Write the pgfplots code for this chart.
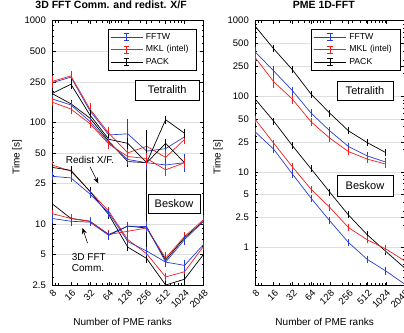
\documentclass[border=0pt]{standalone}
\usepackage{fontspec}
\setmainfont{Liberation Sans}
\usepackage{pgfplots}
\pgfplotsset{compat=1.18}
\usetikzlibrary{arrows.meta}
\definecolor{cB}{RGB}{40,60,210}
\definecolor{cR}{RGB}{240,30,30}
\definecolor{cK}{RGB}{0,0,0}
\pgfplotsset{
  sB/.style={color=cB, line width=0.7pt, mark=none, error bars/.cd, y dir=both, y explicit, error bar style={line width=0.7pt}, error mark options={cB, mark size=3pt, line width=0.7pt}},
  sR/.style={color=cR, line width=0.7pt, mark=none, error bars/.cd, y dir=both, y explicit, error bar style={line width=0.7pt}, error mark options={cR, mark size=3pt, line width=0.7pt}},
  sK/.style={color=cK, line width=0.7pt, mark=none, error bars/.cd, y dir=both, y explicit, error bar style={line width=0.7pt}, error mark options={cK, mark size=3pt, line width=0.7pt}},
  every axis/.append style={
    scale only axis, height=264.3pt,
    xmode=log, ymode=log, xmin=8, xmax=2048,
    xtick={8,16,32,64,128,256,512,1024,2048},
    xticklabels={8,16,32,64,128,256,512,1024,2048},
    minor xtick={9,10,20,30,40,50,60,70,80,90,100,200,300,400,500,600,700,800,900,1000,2000},
    ymajorgrids, major grid style={black!13, line width=0.5pt},
    tick align=inside, major tick length=3.5pt, minor tick length=2pt,
    tick style={black, line width=0.45pt},
    axis line style={line width=0.5pt},
    every tick label/.append style={font=\fontsize{9.5}{10}\selectfont},
    /pgf/number format/assume math mode=true,
    yticklabel style={inner sep=0pt}, yticklabel shift=6pt,
    xticklabel style={inner sep=0pt, xshift=3pt, rotate=45, anchor=east}, xticklabel shift=6.5pt,
    xlabel style={font=\fontsize{10}{12}\selectfont, at={(axis description cs:0.466,0)}, anchor=center, yshift=-37pt},
    title style={font=\bfseries\fontsize{10.5}{12}\selectfont, anchor=center, yshift=9.7pt},
    legend cell align=left,
    legend style={font=\fontsize{8.7}{9}\selectfont, draw=black, line width=0.5pt, anchor=north east,
      inner xsep=2pt, inner ysep=2.5pt, row sep=1pt, column sep=1.5pt,
      nodes={text height=6.5pt, text depth=2pt, inner sep=1.5pt, text width=47pt, align=left}},
    legend image code/.code={
      \draw[#1] (0pt,0pt) -- (32pt,0pt);
      \draw[#1] (16pt,-3.3pt) -- (16pt,3.3pt);
      \draw[#1] (13.2pt,3.3pt) -- (18.8pt,3.3pt);
      \draw[#1] (13.2pt,-3.3pt) -- (18.8pt,-3.3pt);},
  }
}
\begin{document}
\begin{tikzpicture}
% ---------------- left axis ----------------
\begin{axis}[at={(52pt,47pt)}, anchor=south west, width=151.5pt,
  ymin=2.5, ymax=1000,
  ytick={2.5,5,10,25,50,100,250,500,1000},
  yticklabels={2.5,5,10,25,50,100,250,500,1000},
  minor ytick={3,4,6,7,8,9,20,30,40,60,70,80,90,200,300,400,600,700,800,900},
  xlabel={Number of PME ranks},
  ylabel={Time [s]},
  ylabel style={font=\fontsize{10}{12}\selectfont, at={(axis description cs:-0.231,0.484)}, anchor=center},
  title={3D FFT Comm. and redist. X/F},
  title style={at={(axis description cs:0.39,1)}},
  legend style={at={(0.955,0.97)}},
]
% Tetralith, redist X/F
\addplot[sB] coordinates {(8,245) +- (0,10) (16,278) +- (0,12) (32,130) +- (0,6) (64,75) +- (0,4) (128,77) += (0,23) -= (0,12) (256,52) +- (0,4) (512,55) +- (0,8) (1024,72) +- (0,5)};
\addlegendentry{FFTW}
\addplot[sR] coordinates {(8,252) +- (0,12) (16,286) +- (0,14) (32,135) +- (0,8) (64,78) +- (0,5) (128,50) += (0,14) -= (0,4) (256,58) +- (0,5) (512,45) +- (0,4) (1024,68) +- (0,3)};
\addlegendentry{MKL (intel)}
\addplot[sK] coordinates {(8,192) +- (0,5) (16,237) +- (0,10) (32,118) +- (0,5) (64,68) +- (0,3) (128,62) +- (0,3) (256,40) += (0,38) -= (0,18) (512,106) +- (0,2) (1024,78) +- (0,3)};
\addlegendentry{PACK}
% Tetralith, 3D FFT comm
\addplot[forget plot, sK] coordinates {(8,192) +- (0,5) (16,152) +- (0,4) (32,110) +- (0,4) (64,65) +- (0,3) (128,41) +- (0,2) (256,40) +- (0,3) (512,62) +- (0,2) (1024,40) +- (0,2)};
\addplot[forget plot, sB] coordinates {(8,170) +- (0,4) (16,148) +- (0,4) (32,102) +- (0,4) (64,63) +- (0,3) (128,43) +- (0,2) (256,40) +- (0,4) (512,38) +- (0,3) (1024,40) +- (0,5)};
\addplot[forget plot, sR] coordinates {(8,158) +- (0,4) (16,135) +- (0,5) (32,97) +- (0,4) (64,61) +- (0,3) (128,46) +- (0,2) (256,44) +- (0,3) (512,34) +- (0,2) (1024,40) +- (0,2)};
% Beskow, redist X/F
\addplot[forget plot, sR] coordinates {(8,38) +- (0,1) (16,33) +- (0,1) (32,21) +- (0,0.6) (64,13.3) +- (0,0.5) (128,7.0) +- (0,0.3) (256,5.07) +- (0,0.2) (512,3.0) +- (0,0.1) (1024,3.38) +- (0,0.15) (2048,6.0) +- (0,0.2)};
\addplot[forget plot, sK] coordinates {(8,36) +- (0,0.5) (16,33.6) +- (0,1) (32,20.9) +- (0,0.5) (64,12.3) +- (0,0.3) (128,5.9) +- (0,0.15) (256,4.56) +- (0,0.15) (512,2.5) +- (0,0.05) (1024,2.85) +- (0,0.15) (2048,5.0) +- (0,0.2)};
\addplot[forget plot, sB] coordinates {(8,29.4) +- (0,0.7) (16,28.3) +- (0,0.7) (32,19.7) +- (0,0.5) (64,12.8) +- (0,0.3) (128,6.7) +- (0,0.2) (256,5.4) +- (0,0.2) (512,4.2) +- (0,0.15) (1024,3.9) +- (0,0.2) (2048,6.25) +- (0,0.3)};
% Beskow, 3D FFT comm
\addplot[forget plot, sK] coordinates {(8,15.8) +- (0,0.3) (16,11.3) +- (0,0.3) (32,10.6) +- (0,0.2) (64,7.85) +- (0,0.2) (128,9.5) +- (0,0.3) (256,9.1) += (0,13) -= (0,2.8) (512,4.4) +- (0,0.2) (1024,7.3) +- (0,0.3) (2048,10.6) +- (0,0.3)};
\addplot[forget plot, sR] coordinates {(8,12.6) +- (0,0.3) (16,11.3) +- (0,0.3) (32,10.6) +- (0,0.2) (64,7.85) +- (0,0.2) (128,8.45) +- (0,0.8) (256,9.1) +- (0,0.3) (512,4.6) +- (0,0.3) (1024,7.5) +- (0,0.3) (2048,11) +- (0,0.3)};
\addplot[forget plot, sB] coordinates {(8,11.3) +- (0,0.3) (16,10.6) +- (0,0.3) (32,10.4) +- (0,0.2) (64,7.7) +- (0,0.2) (128,9.5) +- (0,0.3) (256,9.4) +- (0,0.6) (512,4.2) +- (0,0.2) (1024,7.0) +- (0,0.3) (2048,10.6) +- (0,0.3)};
\end{axis}
% ---------------- right axis ----------------
\begin{axis}[at={(255pt,47pt)}, anchor=south west, width=149.5pt,
  ymin=0.32, ymax=1000,
  ytick={1,2.5,5,10,25,50,100,250,500,1000},
  yticklabels={1,2.5,5,10,25,50,100,250,500,1000},
  minor ytick={0.4,0.5,0.6,0.7,0.8,0.9,2,3,4,6,7,8,9,20,30,40,60,70,80,90,200,300,400,600,700,800,900},
  xlabel={Number of PME ranks},
  ylabel={Time [s]},
  ylabel style={font=\fontsize{10}{12}\selectfont, at={(axis description cs:-0.247,0.484)}, anchor=center},
  title={PME 1D-FFT},
  title style={at={(axis description cs:0.46,1)}},
  legend style={at={(0.97,0.97)}},
]
\addplot[sB] coordinates {(8,389) +- (0,15) (16,217) +- (0,12) (32,119) +- (0,4) (64,60) +- (0,2) (128,35) +- (0,1) (256,21.7) +- (0,0.6) (512,16.3) +- (0,0.4) (1024,13.5) +- (0,0.4)};
\addlegendentry{FFTW}
\addplot[sR] coordinates {(8,328) +- (0,12) (16,156) +- (0,15) (32,92) +- (0,4) (64,46) +- (0,1.5) (128,28) +- (0,1) (256,18.6) +- (0,0.5) (512,14.8) +- (0,0.4) (1024,12.7) +- (0,0.4)};
\addlegendentry{MKL (intel)}
\addplot[sK] coordinates {(8,850) +- (0,10) (16,425) +- (0,6) (32,225) +- (0,3) (64,107) +- (0,1.5) (128,60) +- (0,0.8) (256,35) +- (0,0.5) (512,24.5) +- (0,0.3) (1024,18) +- (0,0.2)};
\addlegendentry{PACK}
\addplot[forget plot, sK] coordinates {(8,92.5) +- (0,1) (16,47) +- (0,0.6) (32,22.3) +- (0,0.3) (64,11) +- (0,0.15) (128,5.4) +- (0,0.07) (256,2.7) +- (0,0.04) (512,1.48) +- (0,0.02) (1024,0.89) +- (0,0.02) (2048,0.54) +- (0,0.01)};
\addplot[forget plot, sR] coordinates {(8,50) +- (0,0.7) (16,24) +- (0,0.4) (32,11.7) +- (0,0.2) (64,5.9) +- (0,0.08) (128,3.4) +- (0,0.05) (256,1.84) +- (0,0.03) (512,1.27) +- (0,0.02) (1024,0.96) +- (0,0.02) (2048,0.67) +- (0,0.01)};
\addplot[forget plot, sB] coordinates {(8,34) +- (0,0.5) (16,20) +- (0,0.3) (32,9.4) +- (0,0.15) (64,4.5) +- (0,0.07) (128,2.26) +- (0,0.04) (256,1.17) +- (0,0.02) (512,0.70) +- (0,0.01) (1024,0.49) +- (0,0.01) (2048,0.33) +- (0,0.01)};
\end{axis}
% ---------------- annotations ----------------
\begin{scope}[font=\fontsize{11}{12}\selectfont]
\node[draw, line width=0.5pt, fill=white, minimum width=64.5pt, minimum height=20pt, inner sep=0pt] at (167.25pt,242pt) {Tetralith};
\node[draw, line width=0.5pt, fill=white, minimum width=52pt, minimum height=19pt, inner sep=0pt] at (174pt,128.5pt) {Beskow};
\node[draw, line width=0.5pt, fill=white, minimum width=56.5pt, minimum height=19pt, inner sep=0pt] at (365pt,241pt) {Tetralith};
\node[draw, line width=0.5pt, fill=white, minimum width=56pt, minimum height=21pt, inner sep=0pt] at (365pt,146pt) {Beskow};
\end{scope}
\begin{scope}[font=\fontsize{10}{12}\selectfont]
\node[inner sep=0pt] at (90pt,172pt) {Redist X/F.};
\node[inner sep=0pt, anchor=west] at (71.7pt,75.3pt) {3D FFT};
\node[inner sep=0pt, anchor=west] at (71.7pt,64.3pt) {Comm.};
\end{scope}
\draw[line width=0.6pt, -{Stealth[length=6pt, width=5pt]}] (90pt,165.3pt) -- (98.3pt,148.7pt);
\draw[line width=0.6pt, -{Stealth[length=6pt, width=5pt]}] (87.5pt,89pt) -- (82.5pt,104pt);
\pgfresetboundingbox
\useasboundingbox (0pt,0pt) rectangle (404pt,332pt);
\end{tikzpicture}
\end{document}
